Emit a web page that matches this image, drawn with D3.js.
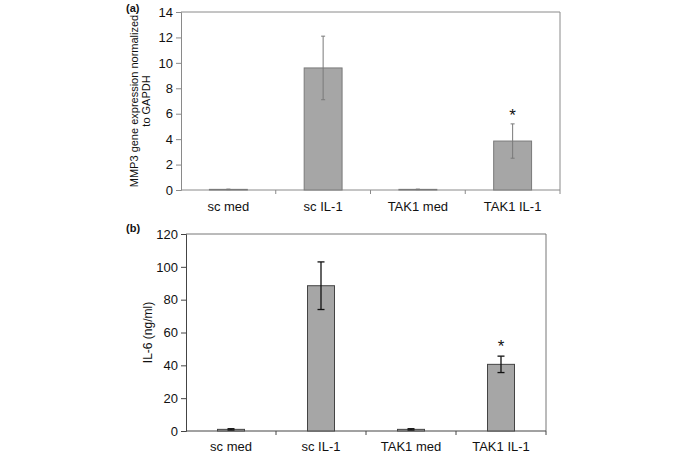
<!DOCTYPE html>
<html>
<head>
<meta charset="utf-8">
<script src="https://cdn.jsdelivr.net/npm/d3@7"></script>
<style>
  html, body { margin: 0; padding: 0; background: #fff; }
  svg { display: block; font-family: "Liberation Sans", Arial, sans-serif; }
</style>
</head>
<body>
<svg id="chart" width="685" height="460"></svg>
<script>
// ---- data ----
const categories = ["sc med", "sc IL-1", "TAK1 med", "TAK1 IL-1"];
const mmp3Values = [0.05, 9.6, 0.05, 3.85];
const mmp3Errors = [0.02, 2.5, 0.02, 1.35];
const il6Values = [1.0, 88.5, 1.0, 40.6];
const il6Errors = [0.4, 14.5, 0.4, 5.0];
const significant = [false, false, false, true];
const mmp3Ticks = [0, 2, 4, 6, 8, 10, 12, 14];
const il6Ticks = [0, 20, 40, 60, 80, 100, 120];

const svg = d3.select("#chart");

function panel(cfg) {
  const g = svg.append("g");
  const x = d3.scaleBand().domain(categories)
    .range([cfg.x0, cfg.x1]).paddingInner(cfg.pad).paddingOuter(cfg.pad / 2);
  const y = d3.scaleLinear().domain([0, cfg.max]).range([cfg.y1, cfg.y0]);

  // frame (top & right)
  g.append("line").attr("x1", cfg.x0).attr("x2", cfg.x1).attr("y1", cfg.y0).attr("y2", cfg.y0)
    .attr("stroke", cfg.frameColor).attr("stroke-width", 1);
  g.append("line").attr("x1", cfg.x1).attr("x2", cfg.x1).attr("y1", cfg.y0).attr("y2", cfg.y1)
    .attr("stroke", cfg.frameColor).attr("stroke-width", 1);

  // y axis
  const yAxis = d3.axisLeft(y).tickValues(cfg.ticks).tickSize(5).tickPadding(3);
  const ya = g.append("g").attr("transform", `translate(${cfg.x0},0)`).call(yAxis);
  ya.select(".domain").attr("stroke", cfg.axisColor);
  ya.selectAll(".tick line").attr("stroke", cfg.axisColor);
  ya.selectAll(".tick text").attr("font-size", 13).attr("fill", "#111")
    .attr("font-family", "Liberation Sans, Arial, sans-serif");

  // x axis with boundary ticks
  const step = x.step();
  const xa = g.append("g").attr("transform", `translate(0,${cfg.y1})`);
  xa.append("line").attr("x1", cfg.x0).attr("x2", cfg.x1).attr("stroke", cfg.axisColor);
  const bounds = d3.range(1, categories.length + 1).map(i => cfg.x0 + i * step);
  xa.selectAll("line.bt").data(bounds).join("line").attr("class", "bt")
    .attr("x1", d => d).attr("x2", d => d).attr("y1", 0).attr("y2", 4)
    .attr("stroke", cfg.axisColor);
  xa.selectAll("text").data(categories).join("text")
    .attr("x", d => x(d) + x.bandwidth() / 2)
    .attr("y", cfg.labelDy)
    .attr("text-anchor", "middle").attr("font-size", 13).attr("fill", "#111")
    .text(d => d);

  // bars
  g.selectAll("rect.bar").data(categories).join("rect").attr("class", "bar")
    .attr("x", d => x(d))
    .attr("width", x.bandwidth())
    .attr("y", (d, i) => y(cfg.values[i]))
    .attr("height", (d, i) => y(0) - y(cfg.values[i]))
    .attr("fill", "#a6a6a6").attr("stroke", cfg.barStroke).attr("stroke-width", 1);

  // error bars
  const eb = g.selectAll("g.err").data(categories).join("g").attr("class", "err");
  eb.append("line")
    .attr("x1", d => x(d) + x.bandwidth() / 2).attr("x2", d => x(d) + x.bandwidth() / 2)
    .attr("y1", (d, i) => y(cfg.values[i] - cfg.errors[i]))
    .attr("y2", (d, i) => y(cfg.values[i] + cfg.errors[i]))
    .attr("stroke", cfg.errColor).attr("stroke-width", cfg.errWidth);
  [1, -1].forEach(s => {
    eb.append("line")
      .attr("x1", d => x(d) + x.bandwidth() / 2 - cfg.cap).attr("x2", d => x(d) + x.bandwidth() / 2 + cfg.cap)
      .attr("y1", (d, i) => y(cfg.values[i] + s * cfg.errors[i]))
      .attr("y2", (d, i) => y(cfg.values[i] + s * cfg.errors[i]))
      .attr("stroke", cfg.errColor).attr("stroke-width", cfg.errWidth);
  });

  // significance stars
  g.selectAll("text.star").data(categories.filter((d, i) => significant[i])).join("text")
    .attr("class", "star")
    .attr("x", d => x(d) + x.bandwidth() / 2)
    .attr("y", d => { const i = categories.indexOf(d); return y(cfg.values[i] + cfg.errors[i]) + cfg.starDy; })
    .attr("text-anchor", "middle").attr("font-size", 17).attr("fill", "#111")
    .text("*");

  // y title
  const t = g.append("text")
    .attr("transform", `translate(${cfg.titleX},${(cfg.y0 + cfg.y1) / 2}) rotate(-90)`)
    .attr("text-anchor", "middle").attr("font-size", cfg.titleSize).attr("fill", "#111");
  cfg.title.forEach((line, i) => {
    t.append("tspan").attr("x", 0).attr("dy", i === 0 ? 0 : 11.5).text(line);
  });

  // panel label
  g.append("text").attr("x", cfg.tagX).attr("y", cfg.tagY)
    .attr("font-size", 11).attr("font-weight", "bold").attr("fill", "#111").text(cfg.tag);
}

panel({
  x0: 181, x1: 560, y0: 12, y1: 190, max: 14, pad: 0.6,
  values: mmp3Values, errors: mmp3Errors, ticks: mmp3Ticks,
  frameColor: "#8a8a8a", axisColor: "#8a8a8a", barStroke: "#7a7a7a",
  errColor: "#7a7a7a", errWidth: 1, cap: 2,
  labelDy: 21, starDy: -3,
  title: ["MMP3 gene expression normalized", "to GAPDH"], titleX: 138, titleSize: 11,
  tag: "(a)", tagX: 126, tagY: 12
});

panel({
  x0: 186, x1: 546, y0: 234, y1: 431, max: 120, pad: 0.7,
  values: il6Values, errors: il6Errors, ticks: il6Ticks,
  frameColor: "#777", axisColor: "#444", barStroke: "#444",
  errColor: "#111", errWidth: 1.3, cap: 3.5,
  labelDy: 20, starDy: -4,
  title: ["IL-6 (ng/ml)"], titleX: 152, titleSize: 12,
  tag: "(b)", tagX: 126, tagY: 232
});
</script>
</body>
</html>
